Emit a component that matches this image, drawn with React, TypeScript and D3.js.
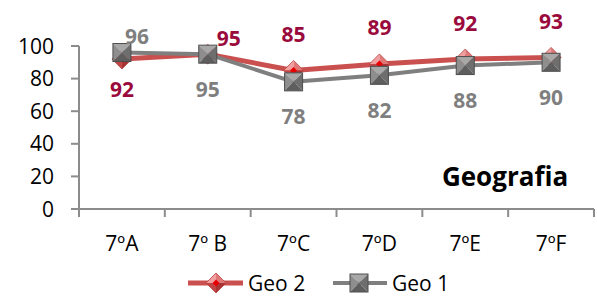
import React from "react";
import * as d3 from "d3";

const categories = ["7ºA", "7º B", "7ºC", "7ºD", "7ºE", "7ºF"];
const geo2 = [92, 95, 85, 89, 92, 93];
const geo1 = [96, 95, 78, 82, 88, 90];
// where each data label sits relative to its point
const geo2LabelPos = ["below", "right", "above", "above", "above", "above"];
const geo1LabelPos = ["right", "below", "below", "below", "below", "below"];
const yTicks = [0, 20, 40, 60, 80, 100];

const W = 597;
const H = 303;
const FONT = "'Open Sans', Lato, sans-serif";

const RED = "#C9504F";
const GRAY = "#7F7F7F";
const RED_LABEL = "#9A0A3C";
const AXIS = "#8C8C8C";

const Diamond = ({ x, y, r = 10 }: { x: number; y: number; r?: number }) => (
  <g transform={`translate(${x},${y})`}>
    <polygon points={`0,${-r} ${-r},0 0,0`} fill="#F0A0A0" />
    <polygon points={`0,${-r} ${r},0 0,0`} fill="#E07878" />
    <polygon points={`${-r},0 0,${r} 0,0`} fill="#C24545" />
    <polygon points={`${r},0 0,${r} 0,0`} fill="#A83434" />
    <polygon points={`0,${-r} ${r},0 0,${r} ${-r},0`} fill="none" stroke="#B84444" strokeWidth={0.8} />
    <polygon points={`0,-3.5 3.5,0 0,3.5 -3.5,0`} fill="#E80000" />
  </g>
);

const Square = ({ x, y, s = 9 }: { x: number; y: number; s?: number }) => (
  <g transform={`translate(${x},${y})`}>
    <polygon points={`${-s},${-s} ${s},${-s} 0,0`} fill="#A8A8A8" />
    <polygon points={`${-s},${-s} ${-s},${s} 0,0`} fill="#8E8E8E" />
    <polygon points={`${s},${-s} ${s},${s} 0,0`} fill="#6E6E6E" />
    <polygon points={`${-s},${s} ${s},${s} 0,0`} fill="#5E5E5E" />
    <rect x={-s} y={-s} width={2 * s} height={2 * s} fill="none" stroke="#4E4E4E" strokeWidth={1} />
  </g>
);

const labelOffset = (pos: string, side: "red" | "gray") => {
  if (pos === "above") return { dx: 0, dy: -36 };
  if (pos === "below") return { dx: 0, dy: side === "red" ? 30 : 35 };
  return { dx: side === "red" ? 21 : 15, dy: -16 };
};

export default function App() {
  const x = d3.scaleBand<string>().domain(categories).range([79, 594]).padding(0);
  const y = d3.scaleLinear().domain([0, 100]).range([209, 46]);
  const cx = (c: string) => (x(c) ?? 0) + x.bandwidth() / 2;

  const line = d3
    .line<number>()
    .x((_, i) => cx(categories[i]))
    .y((d) => y(d));

  const edges = [...categories.map((c) => x(c) ?? 0), 594];

  return (
    <svg width={W} height={H} style={{ position: "absolute", left: 0, top: 0, fontFamily: FONT }}>
      <rect width={W} height={H} fill="#fff" />

      {/* y axis */}
      <line x1={79} x2={79} y1={y(100)} y2={y(0)} stroke={AXIS} strokeWidth={2} />
      {yTicks.map((t) => (
        <g key={t}>
          <line x1={71} x2={79} y1={y(t)} y2={y(t)} stroke={AXIS} strokeWidth={2} />
          <text x={54} y={y(t)} dy="0.36em" textAnchor="end" fontSize={21} fill="#000">
            {t}
          </text>
        </g>
      ))}

      {/* x axis */}
      <line x1={79} x2={594} y1={y(0)} y2={y(0)} stroke={AXIS} strokeWidth={2} />
      {edges.map((e, i) => (
        <line key={i} x1={e} x2={e} y1={y(0)} y2={y(0) + 8} stroke={AXIS} strokeWidth={2} />
      ))}
      {categories.map((c) => (
        <text key={c} x={cx(c)} y={243} dy="0.36em" textAnchor="middle" fontSize={21} fill="#000">
          {c}
        </text>
      ))}

      <text x={505} y={186} textAnchor="middle" fontSize={26} fontWeight="bold" fill="#000">
        Geografia
      </text>

      {/* Geo 2 */}
      <path d={line(geo2) ?? ""} fill="none" stroke={RED} strokeWidth={5} strokeLinejoin="round" />
      {geo2.map((v, i) => (
        <Diamond key={i} x={cx(categories[i])} y={y(v)} />
      ))}

      {/* Geo 1 */}
      <path d={line(geo1) ?? ""} fill="none" stroke={GRAY} strokeWidth={4} strokeLinejoin="round" />
      {geo1.map((v, i) => (
        <Square key={i} x={cx(categories[i])} y={y(v)} />
      ))}

      {/* data labels */}
      {geo2.map((v, i) => {
        const o = labelOffset(geo2LabelPos[i], "red");
        return (
          <text key={i} x={cx(categories[i]) + o.dx} y={y(v) + o.dy} dy="0.36em" textAnchor="middle"
            fontSize={21} fontWeight="bold" fill={RED_LABEL}>
            {v}
          </text>
        );
      })}
      {geo1.map((v, i) => {
        const o = labelOffset(geo1LabelPos[i], "gray");
        return (
          <text key={i} x={cx(categories[i]) + o.dx} y={y(v) + o.dy} dy="0.36em" textAnchor="middle"
            fontSize={21} fontWeight="bold" fill={GRAY}>
            {v}
          </text>
        );
      })}

      {/* legend */}
      <line x1={188} x2={243} y1={283} y2={283} stroke={RED} strokeWidth={5} />
      <Diamond x={216} y={283} />
      <text x={248} y={283} dy="0.36em" fontSize={21} fill="#000">Geo 2</text>
      <line x1={333} x2={387} y1={283} y2={283} stroke={GRAY} strokeWidth={4} />
      <Square x={359} y={283} />
      <text x={392} y={283} dy="0.36em" fontSize={21} fill="#000">Geo 1</text>
    </svg>
  );
}
